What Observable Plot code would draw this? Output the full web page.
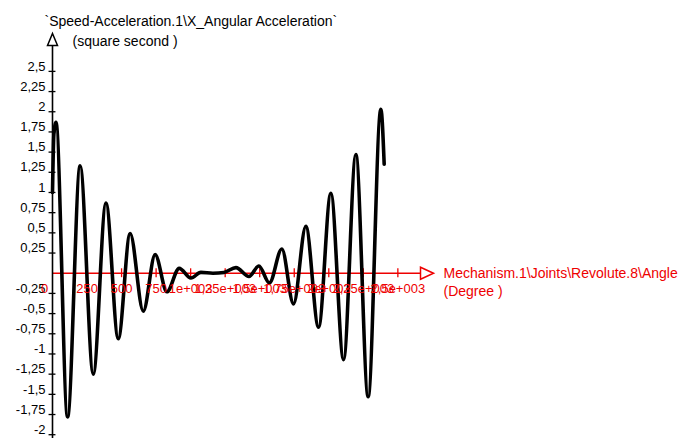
<!DOCTYPE html>
<html>
<head>
<meta charset="utf-8">
<script src="https://cdn.jsdelivr.net/npm/d3@7"></script>
<script src="https://cdn.jsdelivr.net/npm/@observablehq/plot@0.6"></script>
<style>
  html, body { margin: 0; padding: 0; background: #fff; }
</style>
</head>
<body>
<div id="chart"></div>
<script>
// Angle (degree) and angular acceleration
const angleDeg = [0, 10, 25, 109, 200, 295, 387, 476, 562, 657, 743, 828, 917, 1002, 1074, 1161, 1241, 1328, 1422, 1494, 1570, 1660, 1745, 1834, 1926, 2015, 2107, 2196, 2285, 2377, 2401];
const accel    = [1.0, 1.72, 1.87, -1.78, 1.33, -1.25, 0.87, -0.81, 0.49, -0.47, 0.23, -0.23, 0.06, -0.06, 0.01, 0.0, 0.01, 0.07, -0.04, 0.09, -0.12, 0.30, -0.38, 0.58, -0.67, 0.99, -1.07, 1.47, -1.53, 2.03, 1.35];

const xTickValues = [0, 250, 500, 750, 1000, 1250, 1500, 1750, 2000, 2250, 2500];
const xTickLabels = ["0", "250", "500", "750", "1e+003", "1,25e+003", "1,5e+003", "1,75e+003", "2e+003", "2,25e+003", "2,5e+003"];

const yTickValues = [2.5, 2.25, 2, 1.75, 1.5, 1.25, 1, 0.75, 0.5, 0.25, -0.25, -0.5, -0.75, -1, -1.25, -1.5, -1.75, -2];
const yTickLabels = ["2,5", "2,25", "2", "1,75", "1,5", "1,25", "1", "0,75", "0,5", "0,25", "-0,25", "-0,5", "-0,75", "-1", "-1,25", "-1,5", "-1,75", "-2"];

const titleLine1 = "`Speed-Acceleration.1\\X_Angular Acceleration`";
const titleLine2 = "(square second )";
const xLabelLine1 = "Mechanism.1\\Joints\\Revolute.8\\Angle";
const xLabelLine2 = "(Degree )";

const RED = "#ee0000";
const FONT = "Liberation Sans";

const curve = angleDeg.map((a, i) => ({angle: a, value: accel[i]}));
const xTicks = xTickValues.map((v, i) => ({v, label: xTickLabels[i]}));
const yTicks = yTickValues.map((v, i) => ({v, label: yTickLabels[i]}));

const arrowUp = {draw(ctx) { ctx.moveTo(0, -12); ctx.lineTo(5, 0); ctx.lineTo(-5, 0); ctx.closePath(); }};
const arrowRight = {draw(ctx) { ctx.moveTo(13, 0); ctx.lineTo(0, -6); ctx.lineTo(0, 6); ctx.closePath(); }};

const chart = Plot.plot({
  width: 681,
  height: 438,
  marginLeft: 52,
  marginRight: 248,
  marginTop: 44,
  marginBottom: 0,
  style: {fontFamily: FONT, fontSize: "13px", background: "#fff"},
  x: {domain: [0, 2758], axis: null},
  y: {domain: [-2.047, 2.833], axis: null},
  marks: [
    // x axis (red) at zero
    Plot.ruleY([0], {stroke: RED, strokeWidth: 1.6}),
    Plot.ruleX(xTicks.slice(1), {x: "v", y1: -0.055, y2: 0.055, stroke: RED, strokeWidth: 1.3}),
    Plot.dot([0], {y: d => d, frameAnchor: "right", dx: -13, symbol: arrowRight, r: 5, stroke: RED, fill: "white", strokeWidth: 1.5}),
    // y axis (black)
    Plot.ruleX([0], {stroke: "black", strokeWidth: 1.6}),
    Plot.ruleY(yTicks, {y: "v", x1: -25, x2: 25, stroke: "black", strokeWidth: 1.3}),
    Plot.dot([0], {x: d => d, frameAnchor: "top", dy: 1, symbol: arrowUp, r: 5, stroke: "black", fill: "white", strokeWidth: 1.5}),
    // curve
    Plot.line(curve, {x: "angle", y: "value", stroke: "black", strokeWidth: 3.6, curve: "monotone-x"}),
    // tick labels
    Plot.text(yTicks, {x: 0, y: "v", text: "label", textAnchor: "end", dx: -7, dy: -5, fill: "black", fontSize: 13}),
    Plot.text(xTicks.slice(0, 1), {x: "v", y: 0, text: "label", dx: -8, dy: 16, fill: RED, fontSize: 13}),
    Plot.text(xTicks.slice(1), {x: "v", y: 0, text: "label", dy: 16, fill: RED, fontSize: 13}),
    // axis titles
    Plot.text([titleLine1], {frameAnchor: "top-left", textAnchor: "start", dx: -8, dy: -28, fill: "black", fontSize: 14}),
    Plot.text([titleLine2], {frameAnchor: "top-left", textAnchor: "start", dx: 20, dy: -8, fill: "black", fontSize: 14}),
    Plot.text([xLabelLine1], {y: () => 0, frameAnchor: "right", textAnchor: "start", dx: 10, fill: RED, fontSize: 14}),
    Plot.text([xLabelLine2], {y: () => 0, frameAnchor: "right", textAnchor: "start", dx: 10, dy: 18.5, fill: RED, fontSize: 14})
  ]
});
document.getElementById("chart").appendChild(chart);
</script>
</body>
</html>
